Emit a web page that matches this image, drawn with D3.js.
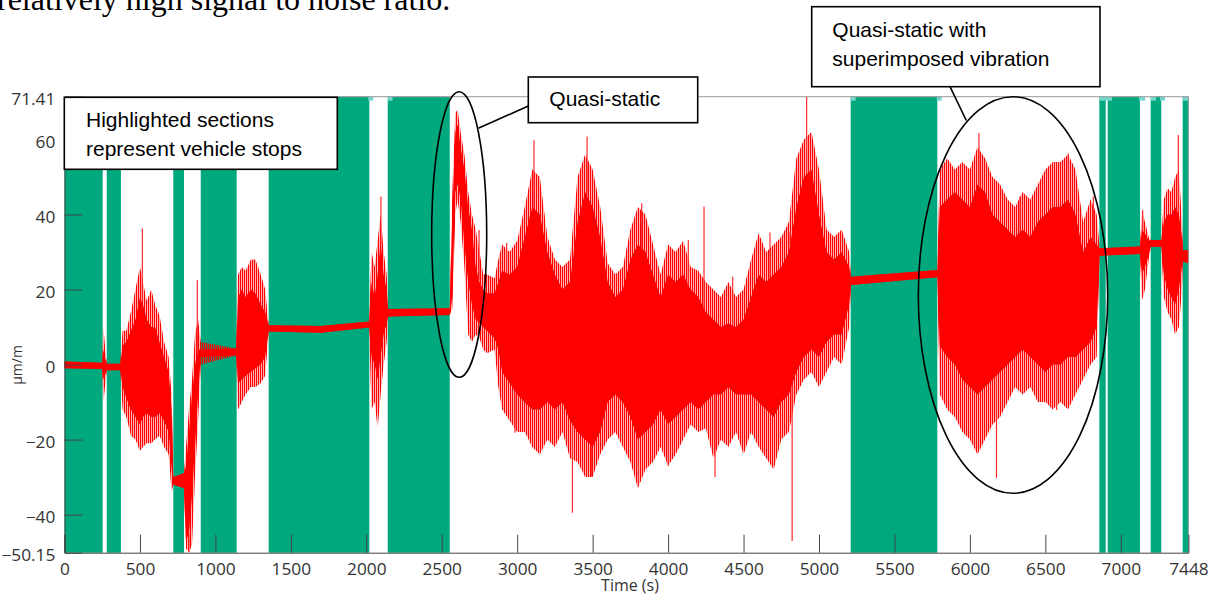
<!DOCTYPE html>
<html><head><meta charset="utf-8">
<script src="https://cdn.jsdelivr.net/npm/d3@7"></script>
<style>body{margin:0;background:#fff;} svg{display:block;}</style>
</head><body>
<svg id="c" width="1210" height="596"></svg>
<script>
// ---------------- data ----------------
const xMax = 7448, yMin = -50.15, yMax = 71.41;
const xTicks = [0,500,1000,1500,2000,2500,3000,3500,4000,4500,5000,5500,6000,6500,7000,7448];
const yTicks = [-40,-20,0,20,40,60];
const yEndLabels = [-50.15, 71.41];

// vehicle stops (s)
const stopStart = [0, 280, 721, 903, 1353, 2142, 5210, 6858, 6913, 7198, 7410];
const stopEnd   = [253, 374, 792, 1141, 2020, 2553, 5784, 6900, 7127, 7268, 7448];
// light flags at the top edge (s)
const flagStart = [2013, 2142, 5210, 5780, 6858, 7121, 7200, 7260, 7412];
const flagEnd   = [2046, 2174, 5243, 5813, 6942, 7161, 7233, 7293, 7448];

// strain signal envelope
const sigTime = [0,250,258,268,280,370,385,410,440,470,500,520,545,575,600,630,660,690,710,721,
  792,805,825,845,865,885,903,1138,1150,1175,1200,1235,1265,1300,1330,1353,1700,2018,2035,2055,
  2075,2095,2115,2135,2145,2553,2570,2590,2605,2625,2650,2675,2700,2725,2750,2775,2800,2850,2875,2900,
  2950,3000,3050,3100,3150,3200,3250,3300,3350,3400,3450,3500,3550,3600,3650,3700,3750,3800,3850,3900,
  3950,4000,4050,4100,4150,4200,4250,4300,4350,4400,4450,4500,4550,4600,4650,4700,4750,4800,4850,4900,
  4950,5000,5050,5100,5150,5200,5212,5784,5800,5850,5900,5950,6000,6050,6100,6150,6200,6250,6300,6350,
  6400,6450,6500,6550,6600,6650,6700,6750,6800,6840,6860,7127,7140,7160,7185,7198,7268,7285,7310,7335,
  7360,7385,7405,7412,7448];
const coreLow = [-1.0,-1.2,-4,-3,-1.5,-1.5,-6,-9,-12,-14,-16,-14,-13,-14,-14,-13,-15,-18,-28,-32,
  -33,-47,-45,-35,-22,-8,2,2.4,-5,-4,-3,-2,-1,0,2,8.8,8.5,9.9,2,0,
  -4,2,8,11,12.8,13.2,18,46,48,44,32,22,16,12,11,10,9,7,4,-2,
  -5,-8,-10,-12,-12,-10,-12,-10,-15,-18,-20,-22,-18,-10,-8,-10,-14,-20,-18,-16,
  -12,-16,-14,-12,-10,-12,-10,-8,-8,-6,-8,-8,-8,-10,-12,-14,-10,-8,-2,2,
  4,2,6,8,8,16,21.2,23.3,5,2,0,-4,-6,-8,-6,-4,-2,0,2,4,
  2,0,-2,0,0,2,2,4,6,10,29,29.5,24,26,29,31.4,31.4,24,20,18,
  16,20,26,27.5,27];
const coreHigh = [0.8,0.5,4,2,0.2,0.2,5,6,9,12,18,16,12,10,10,6,2,-2,-12,-30,
  -29,-27,-18,-8,0,4,4,4.3,18,20,18,20,19,16,14,10.5,10.3,11.5,22,18,
  24,33,24,20,14.8,15.0,40,62,64,58,52,42,36,26,22,20,19,19,22,25,
  24,26,34,42,40,30,24,20,22,38,46,42,34,22,18,20,28,32,30,24,
  18,24,22,24,20,18,14,12,10,11,10,12,18,24,22,24,26,30,42,50,
  52,40,30,28,30,26,23.4,25.2,42,44,46,44,42,48,46,40,38,36,34,36,
  34,38,40,42,42,44,40,30,34,32,31,31.5,36,35,33,33.2,33.2,38,40,40,
  42,40,34,30.5,30.5];
const peakLow = [-1.0,-1.2,-10,-6,-1.5,-1.5,-12,-14,-19,-20,-23,-22,-21,-21,-20,-19,-22,-24,-34,-32,
  -33,-49,-50,-48,-30,-15,0,2.4,-12,-10,-8,-6,-6,-5,-3,8.8,8.5,9.9,-12,-10,
  -17,-8,0,6,12.8,13.2,15,40,44,38,26,8,6,8,7,4,3,4,-6,-12,
  -15,-18,-18,-22,-24,-20,-22,-18,-25,-26,-30,-30,-24,-20,-18,-22,-26,-33,-28,-26,
  -22,-27,-24,-20,-16,-18,-17,-25,-20,-22,-18,-24,-18,-22,-25,-28,-20,-18,-8,-4,
  -2,-6,-2,2,0,10,21.2,23.3,-8,-12,-14,-18,-20,-24,-20,-16,-14,-10,-6,-8,
  -6,-10,-10,-12,-10,-12,-8,-4,0,2,29,29.5,17,20,28,31.4,31.4,18,14,12,
  8,10,20,27.5,27];
const peakHigh = [0.8,0.5,10,5,0.2,0.2,9,9,14,20,26,22,17,20,16,13,6,2,-8,-30,
  -29,-22,-12,-4,8,12,6,4.3,24,26,25,28,28,24,20,10.5,10.3,11.5,30,26,
  33,40,30,24,14.8,15.0,46,67,68,62,56,46,40,36,30,24,24,23,28,32,
  30,33,42,52,50,34,28,26,28,50,56,52,42,27,24,26,36,42,40,32,
  24,32,30,33,26,25,22,20,18,22,18,20,28,35,30,32,34,38,55,60,
  62,52,36,34,36,30,23.4,25.2,52,55,52,54,52,58,55,50,48,44,42,46,
  44,48,52,54,54,56,52,38,44,40,31,31.5,41,38,34,33.2,33.2,44,47,46,
  50,52,38,30.5,30.5];
// isolated spikes
const spikeTime  = [516, 825, 880, 2097, 2747, 2930, 2985, 3111, 3366, 3463, 3493, 3803, 3825, 4001, 4134,
  4238, 4311, 4428, 4675, 4808, 4822, 4918, 6060, 6176, 6332, 6575, 6652, 6818, 7145, 7381];
const spikeValue = [36.3, -50, 22.5, 44.8, 35.9, 32.4, -18.2, 59.8, -39.5, 60.8, -29.9, -32.6, 43, -27, 33.2,
  42.1, -30, 23.4, 35.2, 35.2, -47, 71.4, 61.7, -30.2, 44.8, -12.1, 56.3, 44.8, 41.2, 61.2];

// ---------------- drawing ----------------
const svg = d3.select("#c");
const L = 64.5, R = 1188.4, T = 96.7, B = 552.7;
const x = d3.scaleLinear().domain([0, xMax]).range([L, R]);
const y = d3.scaleLinear().domain([yMin, yMax]).range([B, T]);
const green = "#00a87e", flag = "#74d8cf";

svg.append("rect").attr("width",1210).attr("height",596).attr("fill","#fff");
const defs = svg.append("defs");
const pat = defs.append("pattern").attr("id","stripes").attr("patternUnits","userSpaceOnUse")
  .attr("width",2).attr("height",4);
pat.append("rect").attr("width",1.1).attr("height",4).attr("fill","#ff0000");
pat.append("rect").attr("x",1.1).attr("width",0.9).attr("height",4).attr("fill","#ff0000").attr("opacity",0.25);

// document text at top (cut off as in the page)
svg.append("text").attr("x",-3).attr("y",10)
  .attr("font-family","'Liberation Serif','Times New Roman',serif").attr("font-size",32)
  .attr("fill","#000").text("relatively high signal to noise ratio.");

const plot = svg.append("g");
plot.selectAll("rect.stop").data(stopStart).enter().append("rect")
  .attr("x", (d)=>x(d)).attr("y", T)
  .attr("width", (d,i)=>x(stopEnd[i])-x(d)).attr("height", B-T)
  .attr("fill", green);
plot.selectAll("rect.flag").data(flagStart).enter().append("rect")
  .attr("x", (d)=>x(d)).attr("y", T)
  .attr("width", (d,i)=>x(flagEnd[i])-x(d)).attr("height", 4)
  .attr("fill", flag);

const idx = d3.range(sigTime.length);
const outerArea = d3.area().x(i=>x(sigTime[i])).y0(i=>y(peakLow[i])).y1(i=>y(peakHigh[i]));
const coreArea = d3.area().x(i=>x(sigTime[i])).y0(i=>y(coreLow[i])).y1(i=>y(coreHigh[i]));
plot.append("path").attr("d", outerArea(idx)).attr("fill","url(#stripes)");
plot.append("path").attr("d", coreArea(idx)).attr("fill","#ff0000");

const bis = d3.bisector(d=>d).left;
function coreEdge(t, v){
  const j = Math.max(1, Math.min(sigTime.length-1, bis(sigTime, t)));
  const f = (t - sigTime[j-1])/(sigTime[j]-sigTime[j-1]);
  const lo = coreLow[j-1] + f*(coreLow[j]-coreLow[j-1]);
  const hi = coreHigh[j-1] + f*(coreHigh[j]-coreHigh[j-1]);
  return v > hi ? hi : lo;
}
plot.selectAll("line.spike").data(spikeTime).enter().append("line")
  .attr("x1", d=>x(d)).attr("x2", d=>x(d))
  .attr("y1", (d,i)=>y(coreEdge(d, spikeValue[i]))).attr("y2", (d,i)=>y(spikeValue[i]))
  .attr("stroke","#ff2a2a").attr("stroke-width",1.2);

// frame
svg.append("line").attr("x1",L).attr("x2",R).attr("y1",T).attr("y2",T).attr("stroke","#999").attr("stroke-width",1);
svg.append("line").attr("x1",R).attr("x2",R).attr("y1",T).attr("y2",B).attr("stroke","#999").attr("stroke-width",1);

// axes with inward ticks
const tickCol = "#444", labCol = "#333";
const fontTick = "'Open Sans','DejaVu Sans',sans-serif";
const xAxis = d3.axisBottom(x).tickValues(xTicks).tickSize(-18).tickFormat(d3.format("d"));
const gx = svg.append("g").attr("transform",`translate(0,${B})`).call(xAxis);
gx.select(".domain").attr("stroke",tickCol);
gx.selectAll(".tick line").attr("stroke",tickCol);
gx.selectAll(".tick text").attr("fill",labCol).attr("font-family",fontTick).attr("font-size",16)
  .attr("dy",null).attr("y",22).attr("transform","scale(1.08,1)");
gx.selectAll(".tick").filter(d=>d===xMax).select("line").remove();

const yAxis = d3.axisLeft(y).tickValues(yTicks).tickSize(-18).tickFormat(d3.format("d"));
const gy = svg.append("g").attr("transform",`translate(${L},0)`).call(yAxis);
gy.select(".domain").attr("stroke",tickCol);
gy.selectAll(".tick line").attr("stroke",tickCol);
gy.selectAll(".tick text").attr("fill",labCol).attr("font-family",fontTick).attr("font-size",16)
  .attr("x",-8.5).attr("dy","0.5em").attr("transform","scale(1.08,1)");
gy.selectAll(".end").data(yEndLabels).enter().append("text").attr("class","end")
  .attr("x",-8.5).attr("y", d=>y(d)).attr("dy","0.5em").attr("text-anchor","end")
  .attr("fill",labCol).attr("font-family",fontTick).attr("font-size",16)
  .attr("transform","scale(1.08,1)").text(d=>d3.format(".2f")(d));

// axis titles
svg.append("text").attr("x",630).attr("y",591).attr("text-anchor","middle")
  .attr("font-family",fontTick).attr("font-size",16).attr("fill",labCol).text("Time (s)");
svg.append("text").attr("transform","translate(22,365) rotate(-90)").attr("text-anchor","middle")
  .attr("font-family",fontTick).attr("font-size",14).attr("fill",labCol).text("µm/m");

// annotations
const annF = "'Liberation Sans',Arial,sans-serif";
function box(x0,y0,w,h){ svg.append("rect").attr("x",x0).attr("y",y0).attr("width",w).attr("height",h)
  .attr("fill","#fff").attr("stroke","#000").attr("stroke-width",1.6); }
function txt(x0,y0,s){ svg.append("text").attr("x",x0).attr("y",y0).attr("font-family",annF)
  .attr("font-size",21).attr("fill","#000").text(s); }
box(64.3,97.3,273,72);
txt(86,126.7,"Highlighted sections");
txt(86,155.7,"represent vehicle stops");
box(528.3,77,169.4,45.7);
txt(549.3,106,"Quasi-static");
box(811.7,6.7,288.3,80);
txt(832.3,37,"Quasi-static with");
txt(832.3,66,"superimposed vibration");
svg.append("line").attr("x1",528.3).attr("y1",106).attr("x2",478.3).attr("y2",128.3).attr("stroke","#000").attr("stroke-width",1.6);
svg.append("line").attr("x1",950).attr("y1",86.7).attr("x2",966.3).attr("y2",120.5).attr("stroke","#000").attr("stroke-width",1.6);
svg.append("ellipse").attr("cx",459.2).attr("cy",234.5).attr("rx",27.5).attr("ry",142.8)
  .attr("fill","none").attr("stroke","#000").attr("stroke-width",1.6);
svg.append("ellipse").attr("cx",1013).attr("cy",295).attr("rx",94.7).attr("ry",198.3)
  .attr("fill","none").attr("stroke","#000").attr("stroke-width",1.6);
</script>
</body></html>
